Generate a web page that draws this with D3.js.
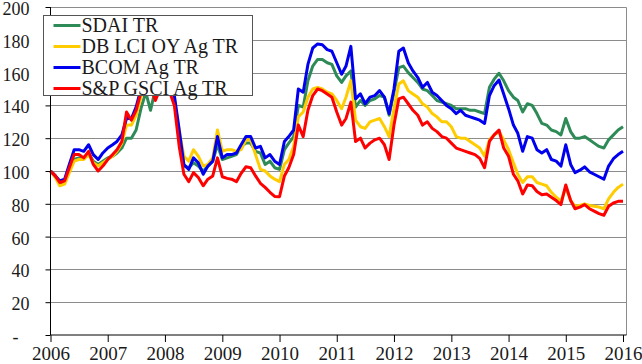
<!DOCTYPE html>
<html>
<head>
<meta charset="utf-8">
<script src="https://cdn.jsdelivr.net/npm/d3@7"></script>
<style>
  html, body { margin: 0; padding: 0; background: #fff; }
  svg { display: block; }
</style>
</head>
<body>
<svg id="chart" width="642" height="364"></svg>
<script>
// ---- data (monthly, Jan 2006 .. Jan 2016) ----
const startMonth = "2006-01";
const endMonth = "2016-01";
const seriesNames = ["SDAI TR", "DB LCI OY Ag TR", "BCOM Ag TR", "S&P GSCI Ag TR"];
const seriesColors = ["#2E8B57", "#FFCC00", "#0000EE", "#FF0000"];
const yTicks = [0, 20, 40, 60, 80, 100, 120, 140, 160, 180, 200];
const xTickYears = [2006, 2007, 2008, 2009, 2010, 2011, 2012, 2013, 2014, 2015, 2016];

const sdai = [
  100, 97, 93, 93, 100, 107, 108, 108, 111, 106, 104, 106,
  108, 109, 111, 114, 120, 120, 125, 138, 148, 137, 150, 152,
  152, 148, 143, 120, 103, 102, 105, 103, 100, 103, 106, 116,
  107, 108, 109, 110, 115, 117, 117, 112, 111, 104, 106, 102,
  101, 113, 117, 121, 140, 139, 155, 164, 168, 168, 166, 165,
  158, 154, 158, 161, 139, 143, 140, 143, 144, 146, 145, 134,
  148, 163, 164, 160, 157, 154, 150, 149, 146, 143, 142, 141,
  140, 138, 138, 138, 137, 137, 136, 135, 151, 156, 159.6, 155,
  149, 145, 143, 136, 141, 140, 135, 129, 128, 125, 124, 122,
  132, 124, 120, 120, 121, 119, 117, 115, 114, 119, 122, 125,
  127
];
const dbLci = [
  100, 96, 91, 92, 99, 106, 107, 107, 110, 105, 103, 105,
  107, 109, 112, 117, 128, 128, 134, 145, 152, 150, 155, 155,
  154, 150, 144, 125, 109, 106, 113, 109, 103, 104, 108, 125,
  112, 113, 113, 112, 113, 119, 119, 110, 101, 100, 97, 95,
  93.5, 104, 107, 115, 133, 136, 145, 150, 151, 150, 148, 147,
  143, 138, 145, 155, 131, 127, 126, 130, 131, 132, 127, 121,
  138, 153, 155, 149, 147, 145, 141, 139, 135, 133, 130, 130,
  127, 121, 120, 120, 118, 116, 114, 109, 119, 122, 124, 119,
  113, 105, 98, 93, 96.5, 96.5, 93, 92, 91, 87, 84, 81.5,
  90, 82, 78.5, 79, 80, 79, 78.5, 78, 77, 83, 87, 90,
  92
];
const bcom = [
  100, 97, 94, 95, 104, 113, 113, 112, 116, 110, 107, 111,
  114, 116, 118, 122, 132, 132, 139, 150, 160, 158, 162, 160,
  158, 150, 146, 125, 104, 101, 108, 105, 98, 103, 106, 121,
  108, 110, 110, 111, 116, 121, 121, 114, 115, 108, 110, 106,
  104, 118, 121, 125, 150, 148, 165, 175, 177.5, 177, 174, 173,
  166, 159, 164, 176, 144, 147, 141, 145, 146, 149, 145, 135,
  150, 173, 175, 166, 161, 157, 151, 154, 148, 146, 143, 140,
  138, 135, 137, 134, 133, 132, 131, 129, 146, 152, 155.5, 147,
  138, 128, 123, 112, 121, 120, 113, 111, 113, 107, 106, 103,
  116, 104, 99, 100.5, 102.5, 99.5, 98, 96.5, 95, 103, 107.5, 110,
  112
];
const gsci = [
  100, 97, 93, 94, 102, 110, 110, 108, 112, 104, 100, 103,
  107, 110, 113, 118, 136, 131, 137, 148, 156, 152, 143, 150,
  152, 148, 140, 115, 98, 93.5, 99, 96, 91, 95, 97, 108,
  96.5, 95.5, 95, 93.5, 98.6, 102.6, 102, 97, 92.5, 90, 87, 84.5,
  84.3, 97, 102, 110, 128, 121, 137, 146, 150, 149, 147, 145,
  136, 128, 132, 142, 118, 120, 114, 117, 119, 120, 116, 107,
  128, 144, 145, 141, 137, 134, 128, 130, 126, 124, 121, 120,
  117, 114, 113, 112, 111, 110, 107.7, 102, 118, 122, 125, 114,
  109, 98, 94, 86, 91.5, 91, 87.5, 85.5, 86, 84, 82, 79.5,
  91.5, 82, 77, 78, 79.5, 77, 75.5, 74, 73, 78.5, 80.5, 81.5,
  81.5
];
const seriesValues = [sdai, dbLci, bcom, gsci];

// ---- layout ----
const FONT = "'Liberation Serif', 'Times New Roman', 'DejaVu Serif', serif";
const svg = d3.select("#chart");
const x0 = 50.5, x1 = 623, plotRight = 626.5;
const yTop = 7, yBottom = 335;

const parseMonth = d3.timeParse("%Y-%m");
const months = d3.timeMonths(parseMonth(startMonth), d3.timeMonth.offset(parseMonth(endMonth), 1));

const x = d3.scaleTime()
  .domain([parseMonth(startMonth), parseMonth(endMonth)])
  .range([x0, x1]);
const y = d3.scaleLinear().domain([0, 200]).range([yBottom, yTop]);

// gridlines
svg.append("g")
  .selectAll("line")
  .data(yTicks.filter(d => d > 0))
  .join("line")
  .attr("x1", x0).attr("x2", plotRight)
  .attr("y1", d => Math.round(y(d)) + 0.5).attr("y2", d => Math.round(y(d)) + 0.5)
  .attr("stroke", "#8c8c8c").attr("stroke-width", 1);

// right border
svg.append("line")
  .attr("x1", plotRight).attr("x2", plotRight)
  .attr("y1", Math.round(y(200)) + 0.5).attr("y2", yBottom)
  .attr("stroke", "#8c8c8c");

// lines
const line = d3.line()
  .x((d, i) => x(months[i]))
  .y(d => y(d));

svg.append("g")
  .selectAll("path")
  .data(seriesValues)
  .join("path")
  .attr("d", d => line(d))
  .attr("fill", "none")
  .attr("stroke", (d, i) => seriesColors[i])
  .attr("stroke-width", 3)
  .attr("stroke-linejoin", "round");

// y axis
const yAxis = d3.axisLeft(y)
  .tickValues(yTicks)
  .tickSize(5)
  .tickPadding(16)
  .tickFormat(d => d === 0 ? "-" : d3.format("d")(d));
const gy = svg.append("g")
  .attr("transform", `translate(${x0},0)`)
  .call(yAxis);
gy.attr("font-family", null).attr("font-size", null);
gy.select(".domain").attr("stroke", "#000").attr("d", `M-0,${yTop}V${yBottom}`);
gy.selectAll(".tick line").attr("stroke", "#000");
gy.selectAll(".tick text")
  .style("font-family", FONT)
  .style("font-size", "18px")
  .attr("fill", "#1a1a1a")
  .attr("dy", "0.42em")
  .filter(d => d === 0).attr("x", -32);

// x axis
const xAxis = d3.axisBottom(x)
  .tickValues(xTickYears.map(yr => new Date(yr, 0, 1)))
  .tickSize(7)
  .tickPadding(5)
  .tickFormat(d3.timeFormat("%Y"));
const gx = svg.append("g")
  .attr("transform", `translate(0,${yBottom})`)
  .call(xAxis);
gx.attr("font-family", null).attr("font-size", null);
gx.select(".domain").attr("stroke", "#000").attr("d", `M${x0},0H${plotRight}`);
gx.selectAll(".tick line").attr("stroke", "#000");
gx.selectAll(".tick text")
  .style("font-family", FONT)
  .style("font-size", "19px")
  .attr("fill", "#1a1a1a");

// legend
const lg = svg.append("g").attr("transform", "translate(43.5,15.5)");
lg.append("rect")
  .attr("width", 209).attr("height", 80)
  .attr("fill", "#fff").attr("stroke", "#555").attr("stroke-width", 1);
const item = lg.selectAll("g.item")
  .data(seriesNames)
  .join("g")
  .attr("class", "item")
  .attr("transform", (d, i) => `translate(0,${10 + i * 21})`);
item.append("line")
  .attr("x1", 10).attr("x2", 37)
  .attr("stroke", (d, i) => seriesColors[i])
  .attr("stroke-width", 3);
item.append("text")
  .attr("x", 38).attr("dy", "0.34em")
  .style("font-family", FONT)
  .style("font-size", "20px")
  .attr("fill", "#1a1a1a")
  .text(d => d);
</script>
</body>
</html>
